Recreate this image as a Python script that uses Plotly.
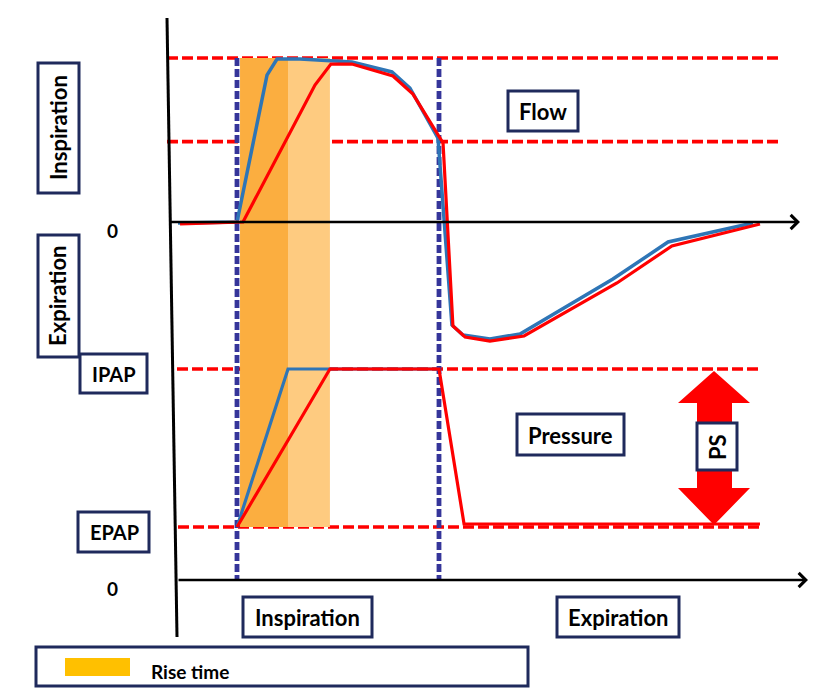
import plotly.graph_objects as go

# ---------------- data (schematic units) ----------------
# time: 0 = start of inspiration, 1 = end of inspiration
flow_fast_t = [-0.292, 0.0, 0.1485, 0.198, 0.312, 0.569, 0.767, 0.856, 0.995, 1.064, 1.119, 1.252, 1.401, 1.861, 2.134, 2.554]
flow_fast_v = [-0.006, 0.0, 0.896, 0.994, 0.994, 0.976, 0.915, 0.817, 0.512, -0.628, -0.689, -0.713, -0.683, -0.348, -0.122, -0.006]

flow_slow_t = [-0.282, 0.0297, 0.386, 0.465, 0.569, 0.772, 0.871, 1.020, 1.069, 1.129, 1.252, 1.421, 1.881, 2.153, 2.490, 2.589]
flow_slow_v = [-0.012, 0.0, 0.835, 0.963, 0.963, 0.890, 0.780, 0.482, -0.634, -0.701, -0.726, -0.695, -0.372, -0.146, -0.043, -0.012]

pres_fast_t = [0.0, 0.2525, 1.0]
pres_fast_v = [5, 15, 15]
pres_slow_t = [0.0, 0.460, 1.0, 1.124, 2.589]
pres_slow_v = [5, 15, 15, 5.19, 5.19]

FLOW_PEAK = 1.0
FLOW_TRIGGER = 0.49
IPAP = 15
EPAP = 5
INSP_START, INSP_END = 0.0, 1.0
RISE_FAST = (0.015, 0.2525)
RISE_SLOW = (0.2525, 0.460)

# ---------------- layout geometry (pixels of the page) ----------------
W, H = 824, 694
OFF = 8  # page body margin
X0_PX, X_SCALE = 237, 202
F0_PX, F_SCALE = 222, 164
P0_PX, P_SCALE = 606, 15.8

def px(x, y):
    return (x - OFF) / W, 1 - (y - OFF) / H

def flow_from_pix(yp):
    return (F0_PX - yp) / F_SCALE

def pres_from_pix(yp):
    return (P0_PX - yp) / P_SCALE

def time_from_pix(xp):
    return (xp - X0_PX) / X_SCALE

def pres_to_pix(p):
    return P0_PX - p * P_SCALE

RED = "#FF0000"
BLUE = "#2E75B6"
NAVY = "#1F2A5C"
VNAVY = "#35359A"
FONT = dict(family="Lato", color="black", size=22, weight="bold")

fig = go.Figure()

fig.add_trace(go.Scatter(x=flow_fast_t, y=flow_fast_v, mode="lines",
                         line=dict(color=BLUE, width=3.5), yaxis="y", hoverinfo="skip"))
fig.add_trace(go.Scatter(x=flow_slow_t, y=flow_slow_v, mode="lines",
                         line=dict(color=RED, width=3.2), yaxis="y", hoverinfo="skip"))
fig.add_trace(go.Scatter(x=pres_fast_t, y=pres_fast_v, mode="lines",
                         line=dict(color=BLUE, width=3.2), yaxis="y2", hoverinfo="skip"))
fig.add_trace(go.Scatter(x=pres_slow_t, y=pres_slow_v, mode="lines",
                         line=dict(color=RED, width=3.2), yaxis="y2", hoverinfo="skip"))

shapes = []
band_bottom = flow_from_pix(pres_to_pix(EPAP))
# rise-time bands
shapes.append(dict(type="rect", xref="x", yref="y", x0=RISE_FAST[0], x1=RISE_FAST[1],
                   y0=band_bottom, y1=FLOW_PEAK, fillcolor="#FBAE40", line=dict(width=0), layer="below"))
shapes.append(dict(type="rect", xref="x", yref="y", x0=RISE_SLOW[0], x1=RISE_SLOW[1],
                   y0=band_bottom, y1=FLOW_PEAK, fillcolor="#FECB80", line=dict(width=0), layer="below"))

# red dashed reference lines
dash_red = dict(color=RED, width=3.6, dash="11px,4px")
for yv, x0p, x1p, yr in [(FLOW_PEAK, 167, 778, "y"), (FLOW_TRIGGER, 167, 778, "y"),
                         (IPAP, 177, 760, "y2"), (EPAP, 178, 760, "y2")]:
    shapes.append(dict(type="line", xref="paper", yref=yr, x0=px(x0p, 0)[0], x1=px(x1p, 0)[0],
                       y0=yv, y1=yv, line=dash_red, layer="below"))

# navy dashed vertical lines
for xv in [INSP_START, INSP_END]:
    shapes.append(dict(type="line", xref="x", yref="paper", x0=xv, x1=xv,
                       y0=px(0, 58)[1], y1=px(0, 580)[1],
                       line=dict(color=VNAVY, width=4.8, dash="8px,3px"), layer="below"))

# vertical axis (slightly slanted)
a0 = px(167, 18); a1 = px(177, 637)
shapes.append(dict(type="line", xref="paper", yref="paper", x0=a0[0], y0=a0[1], x1=a1[0], y1=a1[1],
                   line=dict(color="black", width=3)))

# PS double arrow
pts = [(714, 371), (750, 403), (732, 403), (732, 488), (750, 488), (714, 525),
       (678, 488), (697, 488), (697, 403), (678, 403)]
path = "M " + " L ".join(f"{px(x, y)[0]:.5f},{px(x, y)[1]:.5f}" for x, y in pts) + " Z"
shapes.append(dict(type="path", xref="paper", yref="paper", path=path,
                   fillcolor=RED, line=dict(width=0)))

# label boxes
boxes = [
    (38, 63, 79, 193), (38, 235, 79, 357), (80, 354, 147, 393), (78, 512, 149, 552),
    (508, 91, 578, 131), (517, 414, 624, 455), (697, 423, 737, 470),
    (243, 597, 372, 637), (557, 597, 679, 637), (36, 647, 528, 686),
]
for x0, y0, x1, y1 in boxes:
    p0 = px(x0, y0); p1 = px(x1, y1)
    shapes.append(dict(type="rect", xref="paper", yref="paper", x0=p0[0], y0=p1[1], x1=p1[0], y1=p0[1],
                       fillcolor="white", line=dict(color=NAVY, width=3)))
# legend swatch
s0 = px(65, 658); s1 = px(130, 676)
shapes.append(dict(type="rect", xref="paper", yref="paper", x0=s0[0], y0=s1[1], x1=s1[0], y1=s0[1],
                   fillcolor="#FFC000", line=dict(width=0)))

annotations = []
def label(text, x, y, size=22, angle=0, xanchor="center"):
    p = px(x, y)
    annotations.append(dict(text=text, x=p[0], y=p[1], xref="paper", yref="paper",
                            showarrow=False, textangle=angle, xanchor=xanchor, yanchor="middle",
                            font=dict(FONT, size=size)))

label("Inspiration", 58, 128, angle=-90)
label("Expiration", 58, 296, angle=-90)
label("0", 112, 230, size=19)
label("0", 112, 588, size=19)
label("IPAP", 114, 374, size=20)
label("EPAP", 114, 532, size=20)
label("Flow", 543, 112)
label("Pressure", 570, 435)
label("PS", 717, 447, angle=-90)
label("Inspiration", 307, 617)
label("Expiration", 618, 617)
label("Rise time", 149, 671, size=19, xanchor="left")

# axis arrows
for xs, xe, yy in [(168, 800, 222), (177, 808, 580)]:
    p = px(xe, yy)
    annotations.append(dict(x=p[0], y=p[1], xref="paper", yref="paper", text="",
                            showarrow=True, axref="pixel", ayref="pixel", ax=-(xe - xs), ay=0,
                            arrowhead=4, arrowsize=1.1, arrowwidth=2.5, arrowcolor="black", standoff=0))

fig.update_layout(
    width=W, height=H, autosize=False,
    margin=dict(l=0, r=0, t=0, b=0),
    paper_bgcolor="white", plot_bgcolor="white",
    showlegend=False,
    xaxis=dict(range=[time_from_pix(OFF), time_from_pix(W + OFF)], visible=False, fixedrange=True),
    yaxis=dict(range=[flow_from_pix(H + OFF), flow_from_pix(OFF)], visible=False, fixedrange=True),
    yaxis2=dict(range=[pres_from_pix(H + OFF), pres_from_pix(OFF)], visible=False,
                overlaying="y", fixedrange=True),
    shapes=shapes, annotations=annotations,
)

fig.write_html("out.html", config={"displayModeBar": False})
